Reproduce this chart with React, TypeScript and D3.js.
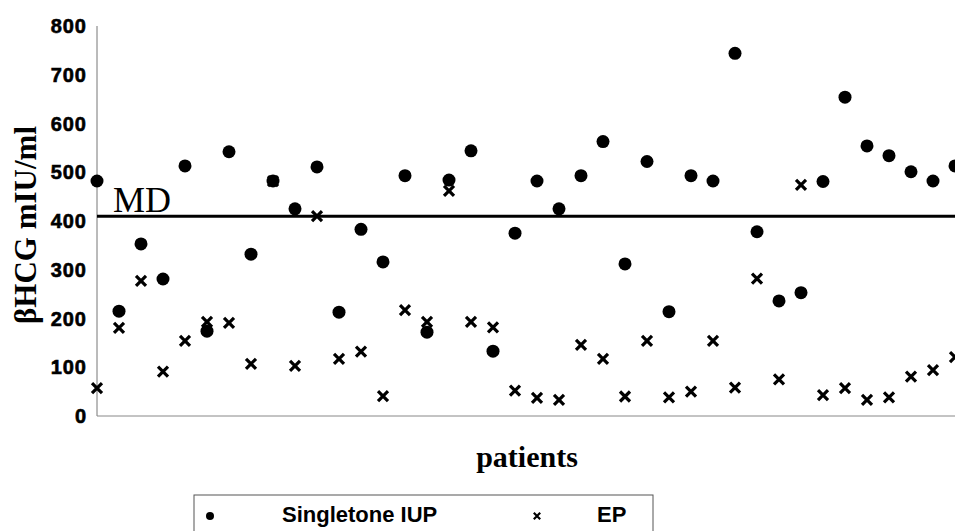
import React from "react";
import * as d3 from "d3";

const patients: number[] = d3.range(40);
const singletonIUP: number[] = [482, 215, 353, 281, 513, 174, 542, 332, 482, 425, 511, 213, 383, 316, 493, 172, 484, 544, 133, 375, 482, 425, 493, 563, 312, 522, 214, 493, 482, 744, 378, 236, 253, 481, 654, 554, 534, 501, 482, 513];
const ectopicEP: number[] = [57, 181, 277, 91, 154, 193, 191, 107, 482, 103, 410, 117, 132, 41, 217, 193, 462, 193, 182, 52, 37, 33, 146, 117, 40, 154, 38, 50, 154, 58, 282, 75, 474, 43, 57, 33, 38, 81, 94, 121];
const yTicks: number[] = [0, 100, 200, 300, 400, 500, 600, 700, 800];
const mdValue = 410;
const legendLabels: string[] = ["Singletone IUP", "EP"];

const W = 955;
const H = 531;
const left = 97;
const right = 955;
const top = 26;
const bottom = 416;

export default function App() {
  const x = d3.scaleLinear().domain([0, 39]).range([left, right]);
  const y = d3.scaleLinear().domain([0, 800]).range([bottom, top]);
  const sans = "'Liberation Sans', Arial, sans-serif";
  const serif = "'Liberation Serif', 'Times New Roman', serif";

  const cross = (cx: number, cy: number, s: number, sw: number, key: string) => (
    <path
      key={key}
      d={`M${cx - s},${cy - s}L${cx + s},${cy + s}M${cx - s},${cy + s}L${cx + s},${cy - s}`}
      stroke="#000"
      strokeWidth={sw}
      fill="none"
    />
  );

  return (
    <div style={{ position: "fixed", left: 0, top: 0 }}>
      <svg width={W} height={H} style={{ display: "block", background: "#fff" }}>
        {/* axes */}
        <line x1={left} x2={left} y1={top} y2={bottom} stroke="#777" strokeWidth={1} />
        <line x1={left} x2={right} y1={bottom} y2={bottom} stroke="#888" strokeWidth={1} />
        {yTicks.map((t) => (
          <text
            key={t}
            x={87}
            y={y(t)}
            dy="0.36em"
            textAnchor="end"
            fontFamily={sans}
            fontWeight="bold"
            fontSize={20}
            letterSpacing={1}
            stroke="#000"
            strokeWidth={0.6}
            fill="#000"
          >
            {t}
          </text>
        ))}
        {/* MD line */}
        <line x1={left} x2={right} y1={y(mdValue)} y2={y(mdValue)} stroke="#000" strokeWidth={3} />
        <text x={113} y={212} fontFamily={serif} fontSize={36} fill="#000">MD</text>
        {/* EP crosses */}
        {patients.map((i) => cross(x(i), y(ectopicEP[i]), 5, 3.2, `ep${i}`))}
        {/* IUP circles */}
        {patients.map((i) => (
          <circle key={`iup${i}`} cx={x(i)} cy={y(singletonIUP[i])} r={6.5} fill="#000" />
        ))}
        {/* axis titles */}
        <text
          transform={`translate(36,${225}) rotate(-90)`}
          textAnchor="middle"
          fontFamily={serif}
          fontWeight="bold"
          fontSize={31}
          fill="#000"
        >
          βHCG mIU/ml
        </text>
        <text x={527} y={467} textAnchor="middle" fontFamily={serif} fontWeight="bold" fontSize={30} fill="#000">
          patients
        </text>
        {/* legend */}
        <rect x={194} y={495} width={459} height={50} fill="none" stroke="#555" strokeWidth={1} />
        <circle cx={210} cy={516} r={4} fill="#000" />
        <text x={282} y={522} fontFamily={sans} fontWeight="bold" fontSize={22} fill="#000">
          {legendLabels[0]}
        </text>
        {cross(537, 516, 3.2, 2.2, "legx")}
        <text x={597} y={522} fontFamily={sans} fontWeight="bold" fontSize={22} fill="#000">
          {legendLabels[1]}
        </text>
      </svg>
    </div>
  );
}
